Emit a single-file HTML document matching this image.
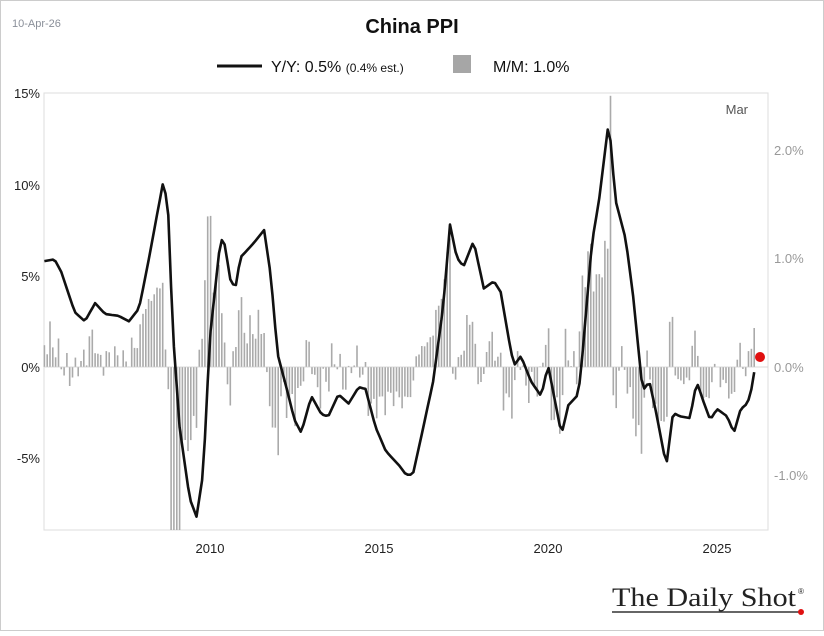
<!DOCTYPE html>
<html><head><meta charset="utf-8"><style>
html,body{margin:0;padding:0;background:#fff;}
body{width:824px;height:631px;overflow:hidden;}
svg text{font-family:"Liberation Sans",sans-serif;}
</style></head><body>
<svg id="s" width="824" height="631" xmlns="http://www.w3.org/2000/svg">
<rect x="0.5" y="0.5" width="823" height="630" fill="#fff" stroke="#ccc"/>
<text x="12" y="27" font-size="11" fill="#8a8f99">10-Apr-26</text>
<text x="412" y="33" font-size="20" font-weight="bold" text-anchor="middle" fill="#111">China PPI</text>
<line x1="217" y1="66" x2="262" y2="66" stroke="#111" stroke-width="3"/>
<text x="271" y="72" font-size="16" fill="#111">Y/Y: 0.5% <tspan font-size="12">(0.4% est.)</tspan></text>
<rect x="453" y="55" width="18" height="18" fill="#a6a6a6"/>
<text x="493" y="72" font-size="16" fill="#111">M/M: 1.0%</text>
<rect x="44" y="93" width="724" height="437" fill="none" stroke="#ddd"/>
<g font-size="13" fill="#222" text-anchor="end">
<text x="40" y="98">15%</text><text x="40" y="190">10%</text><text x="40" y="281">5%</text><text x="40" y="372">0%</text><text x="40" y="463">-5%</text>
</g>
<g font-size="13" fill="#999">
<text x="774" y="155">2.0%</text><text x="774" y="263">1.0%</text><text x="774" y="372">0.0%</text><text x="774" y="480">-1.0%</text>
</g>
<g font-size="13" fill="#222" text-anchor="middle">
<text x="210" y="553">2010</text><text x="379" y="553">2015</text><text x="548" y="553">2020</text><text x="717" y="553">2025</text>
</g>
<text x="748" y="114" font-size="13" fill="#555" text-anchor="end">Mar</text>
<g id="bars" fill="#aaa"></g>
<line x1="44" y1="367" x2="768" y2="367" stroke="#ccc" stroke-width="0.8"/>
<path id="ln" fill="none" stroke="#111" stroke-width="2.6" stroke-linejoin="round"/>
<circle cx="760" cy="357" r="5" fill="#e01010"/>
<text x="612" y="606" style="font-family:'Liberation Serif',serif" font-size="26" fill="#222" textLength="184" lengthAdjust="spacingAndGlyphs">The Daily Shot</text>
<text x="798" y="594" font-size="8" fill="#222">®</text>
<line x1="612" y1="612" x2="800" y2="612" stroke="#333" stroke-width="1.5"/>
<circle cx="801" cy="612" r="3" fill="#e01010"/>
</svg>
<script>
var K=[[2005.1,5.8],[2005.4,5.9],[2005.6,5.2],[2006.0,3.0],[2006.3,2.5],[2006.6,3.5],[2006.9,2.9],[2007.3,2.8],[2007.6,2.5],[2007.9,3.2],[2008.2,6.0],[2008.6,10.0],[2008.75,9.1],[2008.9,2.0],[2009.1,-3.3],[2009.4,-7.2],[2009.6,-8.2],[2009.8,-5.8],[2010.0,1.7],[2010.3,6.8],[2010.4,7.1],[2010.6,4.8],[2010.75,4.3],[2010.9,6.0],[2011.3,6.8],[2011.6,7.5],[2011.8,5.0],[2012.0,0.7],[2012.3,-1.4],[2012.5,-2.9],[2012.7,-3.6],[2013.0,-1.6],[2013.3,-2.6],[2013.5,-2.7],[2013.8,-1.5],[2014.1,-2.0],[2014.4,-1.1],[2014.6,-1.2],[2014.9,-3.3],[2015.2,-4.6],[2015.6,-5.4],[2015.8,-5.9],[2016.0,-5.9],[2016.3,-3.4],[2016.6,-0.8],[2016.9,3.3],[2017.1,7.8],[2017.3,6.0],[2017.5,5.5],[2017.8,6.9],[2018.1,4.3],[2018.4,4.7],[2018.6,4.1],[2018.9,0.9],[2019.0,0.1],[2019.2,0.6],[2019.5,-0.8],[2019.8,-1.6],[2020.0,0.1],[2020.4,-3.7],[2020.6,-2.1],[2020.9,-1.5],[2021.0,0.3],[2021.3,6.8],[2021.5,9.0],[2021.8,13.5],[2022.0,9.1],[2022.3,7.0],[2022.5,4.2],[2022.8,-1.3],[2023.0,-0.8],[2023.2,-2.5],[2023.5,-5.4],[2023.7,-2.5],[2023.9,-2.7],[2024.2,-2.8],[2024.4,-0.8],[2024.6,-1.9],[2024.8,-2.9],[2025.0,-2.3],[2025.3,-2.7],[2025.5,-3.6],[2025.7,-2.3],[2025.9,-2.0],[2026.0,-1.4],[2026.17,0.5]];
function f(t){if(t<=K[0][0])return K[0][1];for(var i=1;i<K.length;i++){if(t<=K[i][0]){var a=K[i-1],b=K[i];return a[1]+(b[1]-a[1])*(t-a[0])/(b[0]-a[0]);}}return K[K.length-1][1];}
function X(t){return 210+(t-2010)*33.8;}
function Y(v){return 367-v*18.26;}
var d="",bars="";
for(var t=2005.1;t<=2026.18;t+=1/12){
 d+=(d?"L":"M")+X(t).toFixed(1)+","+Y(f(t)).toFixed(1);
 var mm=f(t)/25+(f(t)-f(t-1/12))*0.45+0.18*Math.sin(t*37.3)*Math.cos(t*11.7);
 if(t>2026.1)mm=1.0;
 if(Math.abs(t-2021.85)<0.05)mm=2.5;
 if(Math.abs(t-2009.0)<0.1)mm=-1.6;
 var h=mm*108.5,y=h>0?367-h:367;
 if(y<93){h=367-93;y=93;}
 if(367+Math.abs(h)>530&&h<0)h=-(530-367);
 bars+='<rect x="'+(X(t)-0.8).toFixed(1)+'" y="'+y.toFixed(1)+'" width="1.6" height="'+Math.abs(h).toFixed(1)+'"/>';
}
document.getElementById("ln").setAttribute("d",d);
document.getElementById("bars").innerHTML=bars;
</script>
</body></html>
